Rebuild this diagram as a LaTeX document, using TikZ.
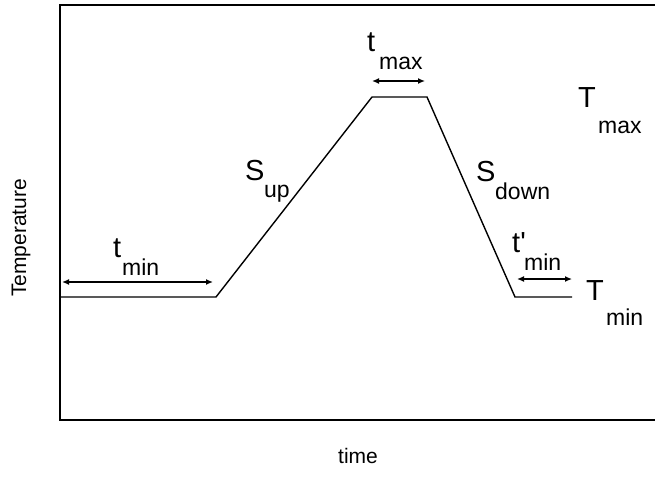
\documentclass[tikz,border=0pt]{standalone}
\usepackage{fontspec}
\setmainfont{Liberation Sans}
\usetikzlibrary{arrows.meta}
\tikzset{
  axisline/.style={line width=1.8pt},
  profile/.style={line width=1.4pt},
  span/.style={line width=1.3pt, {Latex[length=7pt,width=6pt]}-{Latex[length=7pt,width=6pt]}},
  bigsym/.style={inner sep=0pt, anchor=base west, font=\fontsize{29}{29}\selectfont},
  subsym/.style={inner sep=0pt, anchor=base west, font=\fontsize{23}{23}\selectfont},
  axislabel/.style={inner sep=0pt, font=\fontsize{21}{21}\selectfont}
}
\begin{document}
\begin{tikzpicture}[x=1pt, y=-1pt]
\useasboundingbox (0,0) rectangle (655,476);

% plot frame (open on the right)
\coordinate (ftr) at (655,5);
\coordinate (ftl) at (60,5);
\coordinate (fbl) at (60,420);
\coordinate (fbr) at (655,420);
\draw[axisline] (ftr) -- (ftl) -- (fbl) -- (fbr);

% temperature profile
\coordinate (p0) at (60,297);
\coordinate (p1) at (216,297);
\coordinate (p2) at (372,97);
\coordinate (p3) at (427,97);
\coordinate (p4) at (515,297);
\coordinate (p5) at (572,297);
\draw[profile, line join=miter] (p0) -- (p1) -- (p2) -- (p3) -- (p4) -- (p5);

% holding-time spans
\coordinate (a1) at (62,282);
\coordinate (b1) at (213,282);
\draw[span] (a1) -- (b1);
\coordinate (a2) at (372,81);
\coordinate (b2) at (425,81);
\draw[span] (a2) -- (b2);
\coordinate (a3) at (517,279);
\coordinate (b3) at (572,279);
\draw[span] (a3) -- (b3);

% labels
\node[bigsym] (tmin) at (113,257) {t};
\node[subsym] (tminsub) at (122,275) {min};
\node[bigsym] (tmax) at (367,52) {t};
\node[subsym] (tmaxsub) at (379,70) {max};
\node[bigsym] (tpmin) at (512,252) {t\textquotesingle};
\node[subsym] (tpminsub) at (524,270) {min};
\node[bigsym] (sup) at (245,180) {S};
\node[subsym] (supsub) at (264,197) {up};
\node[bigsym] (sdown) at (476,181) {S};
\node[subsym] (sdownsub) at (495,199) {down};
\node[bigsym] (Tmax) at (578,108) {T};
\node[subsym] (Tmaxsub) at (598,133) {max};
\node[bigsym] (Tmin) at (586,300) {T};
\node[subsym] (Tminsub) at (606,325) {min};

% axis titles
\node[axislabel, rotate=90] (ylab) at (21,238) {Temperature};
\node[axislabel] (xlab) at (358,456) {time};
\end{tikzpicture}
\end{document}
